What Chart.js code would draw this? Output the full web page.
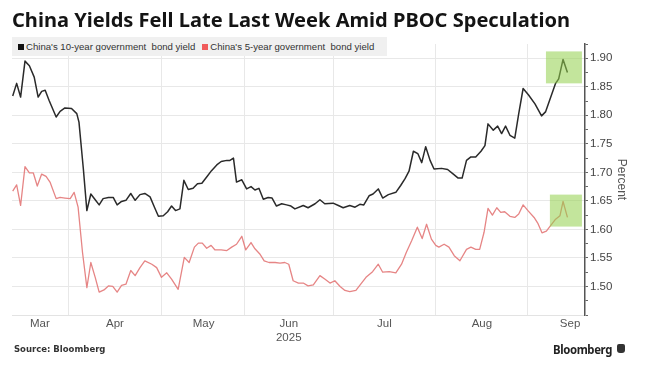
<!DOCTYPE html>
<html><head><meta charset="utf-8">
<script src="https://cdn.jsdelivr.net/npm/chart.js@4.4.1/dist/chart.umd.min.js"></script>
<style>
html,body{margin:0;padding:0;background:#fff;width:650px;height:379px;overflow:hidden;}
#wrap{position:relative;width:650px;height:379px;}
#c{position:absolute;left:0;top:0;}
#title{position:absolute;left:12px;top:7px;font-family:'Noto Sans',sans-serif;font-weight:700;font-size:19px;line-height:26px;color:#141414;white-space:nowrap;transform-origin:0 0;}
#legend{position:absolute;left:12px;top:37px;width:375px;height:19px;background:#f0f0f0;font-family:'Liberation Sans',Arial,sans-serif;font-size:9.6px;color:#333;display:flex;align-items:center;white-space:pre;z-index:2;}
#legend .sw{display:inline-block;width:6px;height:6px;margin:0 2px 0 6px;}
#src{position:absolute;left:14px;top:344px;font-family:'DejaVu Sans',sans-serif;font-weight:700;font-size:8.5px;color:#333;}
#bb{position:absolute;left:553px;top:341px;font-family:'Noto Sans',sans-serif;font-weight:700;font-size:12.5px;color:#222;letter-spacing:-0.4px;transform-origin:0 0;white-space:nowrap;}
#icon{position:absolute;left:617px;top:344px;width:8px;height:9px;background:#333;border-radius:2px 2px 3px 3px;}
</style></head>
<body><div id="wrap">
<canvas id="c" width="650" height="379"></canvas>
<div id="title">China Yields Fell Late Last Week Amid PBOC Speculation</div>
<div id="legend"><span class="sw" style="background:#111"></span><span id="l1"></span><span class="sw" style="background:#f05a5a;margin-left:7px"></span><span id="l2"></span></div>
<div id="src">Source: Bloomberg</div>
<div id="bb">Bloomberg</div>
<div id="icon"></div>
</div>
<script>
// ---- data (x = approximate trading-day index, 0 = end of March) ----
const seriesNames = ["China's 10-year government  bond yield", "China's 5-year government  bond yield"];
const days10 = [-12.6,-11.7,-10.8,-9.8,-8.8,-7.7,-6.8,-6.0,-5.2,-4.3,-2.7,-1.8,-0.7,0.8,2.0,2.5,3.5,4.3,5.2,6.2,7.1,8.0,9.2,10.3,11.2,12.2,13.2,14.3,15.3,16.4,17.5,18.7,19.7,20.6,21.7,22.7,23.6,24.5,25.5,26.4,27.4,28.5,29.5,30.5,31.6,32.7,33.9,34.9,36.2,36.9,37.7,38.4,39.6,40.7,41.7,42.6,43.5,44.5,45.6,46.5,47.5,48.7,49.8,50.8,51.7,53.6,54.7,56.3,57.4,58.5,60.4,61.6,62.7,64.2,65.4,66.5,67.4,68.6,69.5,70.7,71.7,73.0,74.7,75.8,76.8,77.7,78.7,79.7,80.6,81.5,82.5,83.4,85.1,86.5,87.8,88.9,89.8,90.8,91.8,92.9,94.1,95.0,95.7,96.9,97.9,98.8,99.7,100.7,101.8,102.7,103.7,104.9,106.4,107.9,108.8,110.0,111.1,111.8,112.8,113.8];
const yield10 = [1.834,1.856,1.832,1.895,1.887,1.867,1.832,1.842,1.844,1.826,1.797,1.807,1.813,1.812,1.803,1.788,1.706,1.633,1.662,1.652,1.643,1.654,1.656,1.656,1.643,1.649,1.651,1.663,1.651,1.661,1.663,1.657,1.639,1.623,1.624,1.631,1.641,1.633,1.636,1.686,1.670,1.672,1.680,1.681,1.692,1.703,1.713,1.719,1.721,1.721,1.725,1.683,1.687,1.671,1.675,1.669,1.672,1.653,1.656,1.655,1.641,1.645,1.643,1.641,1.636,1.642,1.638,1.645,1.652,1.645,1.646,1.642,1.638,1.642,1.639,1.644,1.643,1.659,1.662,1.671,1.655,1.661,1.665,1.677,1.689,1.702,1.737,1.733,1.717,1.745,1.721,1.706,1.707,1.705,1.697,1.690,1.690,1.721,1.727,1.727,1.737,1.747,1.785,1.774,1.781,1.768,1.781,1.765,1.760,1.803,1.847,1.836,1.820,1.799,1.806,1.832,1.856,1.864,1.898,1.875];
const days5 = [-12.6,-11.7,-10.8,-9.8,-8.8,-7.9,-7.0,-6.0,-5.0,-4.1,-2.7,-1.8,-0.7,0.5,1.4,2.3,3.3,4.3,5.2,6.2,7.1,8.2,9.2,10.2,11.2,12.2,13.2,14.3,15.3,16.4,17.5,19.1,20.2,21.3,22.5,23.6,25.1,26.5,27.6,28.8,29.7,30.6,31.6,32.6,33.5,34.9,36.2,37.3,38.4,39.6,40.5,41.7,42.6,43.7,44.7,45.8,47.2,48.3,49.4,50.3,51.3,52.5,53.6,54.7,55.9,57.4,58.5,59.7,60.8,62.0,63.1,64.2,65.6,66.7,67.9,69.4,70.7,71.7,73.2,74.7,76.0,77.1,78.3,79.6,80.7,81.7,82.8,83.8,84.5,85.7,86.8,88.0,89.3,90.8,91.8,92.9,93.8,94.8,95.7,96.7,97.7,98.6,99.5,100.7,101.8,102.7,103.7,104.9,106.2,107.1,108.0,109.0,110.0,111.1,112.1,112.8,113.8];
const yield5 = [1.667,1.678,1.642,1.710,1.699,1.699,1.676,1.697,1.693,1.683,1.654,1.656,1.655,1.654,1.665,1.639,1.560,1.498,1.542,1.516,1.490,1.494,1.501,1.500,1.490,1.502,1.504,1.528,1.519,1.533,1.545,1.539,1.533,1.516,1.524,1.513,1.495,1.551,1.542,1.569,1.576,1.576,1.567,1.572,1.564,1.564,1.563,1.569,1.574,1.588,1.564,1.577,1.566,1.557,1.545,1.542,1.542,1.541,1.542,1.539,1.510,1.506,1.506,1.501,1.503,1.519,1.513,1.506,1.510,1.500,1.493,1.491,1.493,1.504,1.516,1.526,1.539,1.525,1.526,1.524,1.539,1.560,1.580,1.604,1.584,1.609,1.583,1.572,1.569,1.574,1.569,1.554,1.545,1.565,1.569,1.565,1.565,1.595,1.637,1.625,1.638,1.630,1.631,1.623,1.621,1.627,1.643,1.632,1.621,1.610,1.594,1.597,1.607,1.618,1.624,1.649,1.621];
const monthLabels = ['Mar','Apr','May',['Jun','2025'],'Jul','Aug','Sep'];
const monthLabelDays = [-6.4,10.7,30.9,50.3,72.1,94.3,114.4];
const monthStartDays = [0,21.4,40.3,60.4,83.8,104.8];
const yTickLabels = ['1.50','1.55','1.60','1.65','1.70','1.75','1.80','1.85','1.90'];
const yMin = 1.45, yMax = 1.925, xMin = -12.76, xMax = 117.8;
// highlight boxes [x0, x1, y0, y1]
const boxes10 = [108.9, 117.1, 1.856, 1.912];
const boxes5 = [109.8, 117.1, 1.605, 1.661];

document.getElementById('l1').textContent = seriesNames[0];
document.getElementById('l2').textContent = seriesNames[1];
// fit title / logo widths
const fit = (id, w) => { const el = document.getElementById(id); const cw = el.getBoundingClientRect().width; el.style.transform = 'scaleX(' + (w / cw) + ')'; };
fit('title', 558);
fit('bb', 59);

const pts = (xs, ys) => xs.map((x, i) => ({x, y: ys[i]}));
const yTickVals = [];
for (let i = 0; i <= 19; i++) yTickVals.push(+(yMin + i * 0.025).toFixed(3));

const boxPlugin = {
  id: 'boxes',
  afterDatasetsDraw(chart) {
    const {ctx, scales: {x, y}} = chart;
    ctx.save();
    ctx.fillStyle = 'rgba(145,208,75,0.55)';
    [boxes10, boxes5].forEach(b => {
      const x0 = x.getPixelForValue(b[0]), x1 = x.getPixelForValue(b[1]);
      const y0 = y.getPixelForValue(b[3]), y1 = y.getPixelForValue(b[2]);
      ctx.fillRect(x0, y0, x1 - x0, y1 - y0);
    });
    ctx.restore();
  }
};

new Chart(document.getElementById('c'), {
  type: 'line',
  data: {
    datasets: [
      {label: seriesNames[0], data: pts(days10, yield10), borderColor: '#2a2a2a', borderWidth: 1.5, pointRadius: 0, tension: 0, borderJoinStyle: 'round'},
      {label: seriesNames[1], data: pts(days5, yield5), borderColor: '#e68585', borderWidth: 1.3, pointRadius: 0, tension: 0, borderJoinStyle: 'round'}
    ]
  },
  options: {
    responsive: false,
    animation: false,
    events: [],
    layout: {padding: {left: 12, top: 44, right: 0, bottom: 0}},
    plugins: {legend: {display: false}, tooltip: {enabled: false}},
    scales: {
      x: {
        type: 'linear', position: 'bottom', min: xMin, max: xMax,
        afterBuildTicks: a => { a.ticks = monthStartDays.map(v => ({value: v})); },
        afterFit: a => { a.height = 0; },
        ticks: {display: false},
        grid: {color: '#e8e8e8', lineWidth: 1, drawTicks: false},
        border: {display: true, color: '#e3e3e3', width: 1}
      },
      x2: {
        type: 'linear', position: 'bottom', min: xMin, max: xMax,
        afterBuildTicks: a => { a.ticks = monthLabelDays.map(v => ({value: v})); },
        afterFit: a => { a.height = 64; },
        ticks: {
          autoSkip: false, maxRotation: 0, padding: 2, color: '#555',
          font: {family: "'Liberation Sans Narrow','Liberation Sans',Arial,sans-serif", size: 11.5},
          callback: (v, i) => monthLabels[i]
        },
        grid: {display: false, drawTicks: false},
        border: {display: false}
      },
      y: {
        type: 'linear', position: 'right', min: yMin, max: yMax,
        afterBuildTicks: a => { a.ticks = yTickVals.map(v => ({value: v})); },
        afterFit: a => { a.width = 65; },
        ticks: {
          autoSkip: false, padding: 2, color: '#444',
          font: {family: "'Liberation Sans Narrow','Liberation Sans',Arial,sans-serif", size: 11.5},
          callback: v => { const s = v.toFixed(2); return (Math.round(v * 40) % 2 === 0 && yTickLabels.includes(s)) ? s : ''; }
        },
        grid: {
          color: c => (Math.round(c.tick.value * 40) % 2 === 0 && c.tick.value > yMin + 0.001) ? '#e8e8e8' : 'rgba(0,0,0,0)',
          tickColor: '#666', tickLength: 3, drawTicks: true
        },
        border: {display: true, color: '#555', width: 1.5},
        title: {display: true, text: 'Percent', color: '#555', padding: {top: 21, bottom: 0},
          font: {family: "'Liberation Sans','Noto Sans',Arial,sans-serif", size: 12}}
      }
    }
  },
  plugins: [boxPlugin]
});
</script>
</body></html>
